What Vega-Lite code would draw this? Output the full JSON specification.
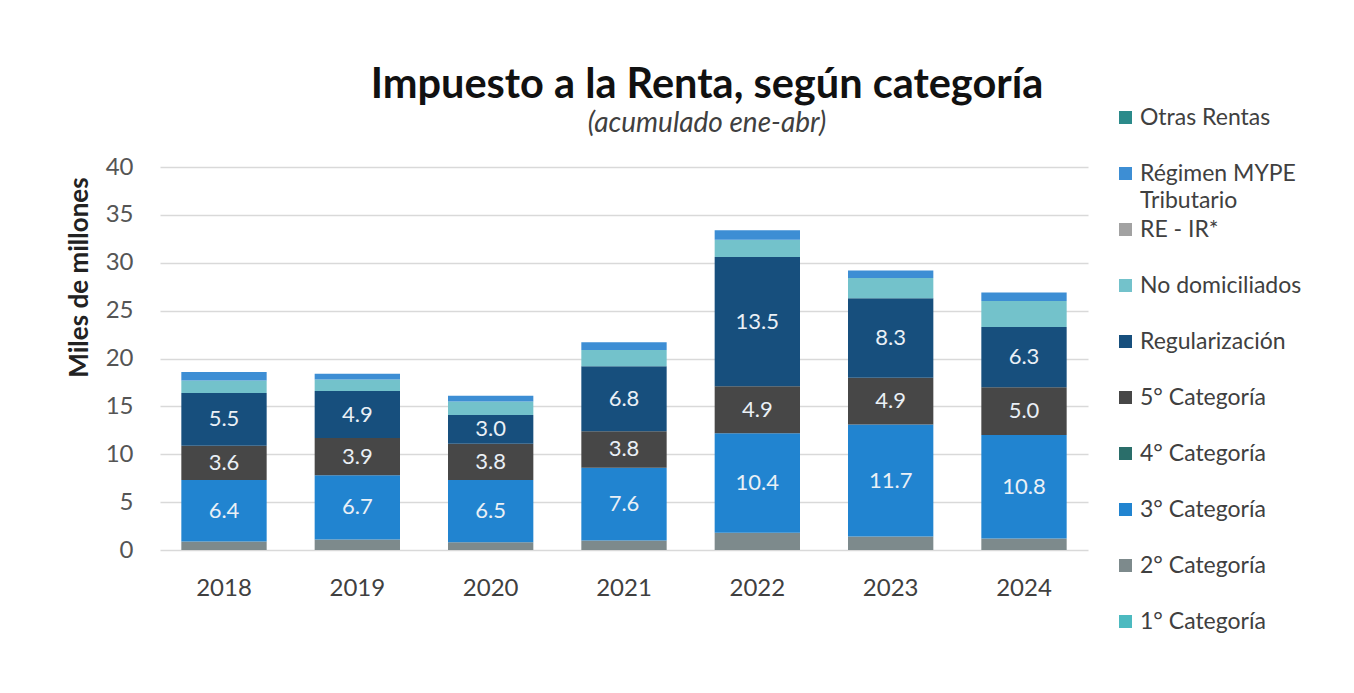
{
  "$schema": "https://vega.github.io/schema/vega-lite/v6.json",
  "width": 928,
  "height": 383,
  "autosize": {"type": "none"},
  "padding": {"left": 160, "top": 167, "right": 266, "bottom": 143},
  "background": "white",
  "config": {"font": "Lato", "view": {"stroke": null}},
  "title": {
    "text": "Impuesto a la Renta, según categoría",
    "subtitle": "(acumulado ene-abr)",
    "anchor": "middle",
    "frame": "group",
    "dx": 83,
    "offset": -32,
    "font": "Lato",
    "fontSize": 41.5,
    "fontWeight": "bold",
    "color": "#111111",
    "subtitleFont": "Lato",
    "subtitleFontSize": 28,
    "subtitleFontStyle": "italic",
    "subtitleColor": "#404040",
    "subtitlePadding": 4
  },
  "data": {
    "values": [
      {"anio": "2018", "categoria": "1° Categoría", "valor": 0},
      {"anio": "2018", "categoria": "2° Categoría", "valor": 0.9},
      {"anio": "2018", "categoria": "3° Categoría", "valor": 6.4},
      {"anio": "2018", "categoria": "4° Categoría", "valor": 0},
      {"anio": "2018", "categoria": "5° Categoría", "valor": 3.6},
      {"anio": "2018", "categoria": "Regularización", "valor": 5.5},
      {"anio": "2018", "categoria": "No domiciliados", "valor": 1.3},
      {"anio": "2018", "categoria": "RE - IR*", "valor": 0},
      {"anio": "2018", "categoria": "Régimen MYPE Tributario", "valor": 0.9},
      {"anio": "2018", "categoria": "Otras Rentas", "valor": 0},
      {"anio": "2019", "categoria": "1° Categoría", "valor": 0},
      {"anio": "2019", "categoria": "2° Categoría", "valor": 1.1},
      {"anio": "2019", "categoria": "3° Categoría", "valor": 6.7},
      {"anio": "2019", "categoria": "4° Categoría", "valor": 0},
      {"anio": "2019", "categoria": "5° Categoría", "valor": 3.9},
      {"anio": "2019", "categoria": "Regularización", "valor": 4.9},
      {"anio": "2019", "categoria": "No domiciliados", "valor": 1.2},
      {"anio": "2019", "categoria": "RE - IR*", "valor": 0},
      {"anio": "2019", "categoria": "Régimen MYPE Tributario", "valor": 0.6},
      {"anio": "2019", "categoria": "Otras Rentas", "valor": 0},
      {"anio": "2020", "categoria": "1° Categoría", "valor": 0},
      {"anio": "2020", "categoria": "2° Categoría", "valor": 0.8},
      {"anio": "2020", "categoria": "3° Categoría", "valor": 6.5},
      {"anio": "2020", "categoria": "4° Categoría", "valor": 0},
      {"anio": "2020", "categoria": "5° Categoría", "valor": 3.8},
      {"anio": "2020", "categoria": "Regularización", "valor": 3.0},
      {"anio": "2020", "categoria": "No domiciliados", "valor": 1.4},
      {"anio": "2020", "categoria": "RE - IR*", "valor": 0},
      {"anio": "2020", "categoria": "Régimen MYPE Tributario", "valor": 0.6},
      {"anio": "2020", "categoria": "Otras Rentas", "valor": 0},
      {"anio": "2021", "categoria": "1° Categoría", "valor": 0},
      {"anio": "2021", "categoria": "2° Categoría", "valor": 1.0},
      {"anio": "2021", "categoria": "3° Categoría", "valor": 7.6},
      {"anio": "2021", "categoria": "4° Categoría", "valor": 0},
      {"anio": "2021", "categoria": "5° Categoría", "valor": 3.8},
      {"anio": "2021", "categoria": "Regularización", "valor": 6.8},
      {"anio": "2021", "categoria": "No domiciliados", "valor": 1.7},
      {"anio": "2021", "categoria": "RE - IR*", "valor": 0},
      {"anio": "2021", "categoria": "Régimen MYPE Tributario", "valor": 0.8},
      {"anio": "2021", "categoria": "Otras Rentas", "valor": 0},
      {"anio": "2022", "categoria": "1° Categoría", "valor": 0},
      {"anio": "2022", "categoria": "2° Categoría", "valor": 1.8},
      {"anio": "2022", "categoria": "3° Categoría", "valor": 10.4},
      {"anio": "2022", "categoria": "4° Categoría", "valor": 0},
      {"anio": "2022", "categoria": "5° Categoría", "valor": 4.9},
      {"anio": "2022", "categoria": "Regularización", "valor": 13.5},
      {"anio": "2022", "categoria": "No domiciliados", "valor": 1.8},
      {"anio": "2022", "categoria": "RE - IR*", "valor": 0},
      {"anio": "2022", "categoria": "Régimen MYPE Tributario", "valor": 1.0},
      {"anio": "2022", "categoria": "Otras Rentas", "valor": 0},
      {"anio": "2023", "categoria": "1° Categoría", "valor": 0},
      {"anio": "2023", "categoria": "2° Categoría", "valor": 1.4},
      {"anio": "2023", "categoria": "3° Categoría", "valor": 11.7},
      {"anio": "2023", "categoria": "4° Categoría", "valor": 0},
      {"anio": "2023", "categoria": "5° Categoría", "valor": 4.9},
      {"anio": "2023", "categoria": "Regularización", "valor": 8.3},
      {"anio": "2023", "categoria": "No domiciliados", "valor": 2.1},
      {"anio": "2023", "categoria": "RE - IR*", "valor": 0},
      {"anio": "2023", "categoria": "Régimen MYPE Tributario", "valor": 0.8},
      {"anio": "2023", "categoria": "Otras Rentas", "valor": 0},
      {"anio": "2024", "categoria": "1° Categoría", "valor": 0},
      {"anio": "2024", "categoria": "2° Categoría", "valor": 1.2},
      {"anio": "2024", "categoria": "3° Categoría", "valor": 10.8},
      {"anio": "2024", "categoria": "4° Categoría", "valor": 0},
      {"anio": "2024", "categoria": "5° Categoría", "valor": 5.0},
      {"anio": "2024", "categoria": "Regularización", "valor": 6.3},
      {"anio": "2024", "categoria": "No domiciliados", "valor": 2.7},
      {"anio": "2024", "categoria": "RE - IR*", "valor": 0},
      {"anio": "2024", "categoria": "Régimen MYPE Tributario", "valor": 0.9},
      {"anio": "2024", "categoria": "Otras Rentas", "valor": 0}
    ]
  },
  "transform": [
    {"calculate": "indexof(['1° Categoría','2° Categoría','3° Categoría','4° Categoría','5° Categoría','Regularización','No domiciliados','RE - IR*','Régimen MYPE Tributario','Otras Rentas'], datum.categoria)", "as": "rank"}
  ],
  "encoding": {
    "x": {
      "field": "anio",
      "type": "ordinal",
      "scale": {"paddingInner": 0.36, "paddingOuter": 0.16},
      "axis": {
        "title": null,
        "labelAngle": 0,
        "domain": false,
        "ticks": false,
        "labelFontSize": 24,
        "labelColor": "#404040",
        "labelPadding": 26
      }
    }
  },
  "layer": [
    {
      "mark": {"type": "bar"},
      "encoding": {
        "y": {
          "field": "valor",
          "type": "quantitative",
          "stack": "zero",
          "scale": {"domain": [0, 40]},
          "axis": {
            "values": [0, 5, 10, 15, 20, 25, 30, 35, 40],
            "title": "Miles de millones",
            "titleFontSize": 26,
            "titleFontWeight": "bold",
            "titleColor": "#222222",
            "titleY": 110,
            "titlePadding": 13,
            "domain": false,
            "ticks": false,
            "labelFontSize": 24,
            "labelColor": "#555555",
            "labelPadding": 27,
            "gridColor": "#d9d9d9",
            "gridWidth": 1.5
          }
        },
        "color": {
          "field": "categoria",
          "type": "nominal",
          "scale": {
            "domain": ["Otras Rentas", "Régimen MYPE Tributario", "RE - IR*", "No domiciliados", "Regularización", "5° Categoría", "4° Categoría", "3° Categoría", "2° Categoría", "1° Categoría"],
            "range": ["#2b8a8a", "#3d8ed4", "#a2a2a2", "#73c2cb", "#174f7d", "#474747", "#2a6e6a", "#2184d0", "#7d8a8c", "#4cbac0"]
          },
          "legend": {
            "orient": "none",
            "legendX": 954,
            "legendY": -61,
            "title": null,
            "symbolType": "square",
            "symbolSize": 169,
            "symbolStrokeWidth": 0,
            "labelFontSize": 23,
            "labelColor": "#404040",
            "labelOffset": 3,
            "labelLimit": 300,
            "rowPadding": 5,
            "labelExpr": "datum.label == 'Régimen MYPE Tributario' ? ['Régimen MYPE', 'Tributario'] : [datum.label, ' ']",
            "encode": {"labels": {"update": {"lineHeight": {"value": 27}}}}
          }
        },
        "order": {"field": "rank", "type": "quantitative", "sort": "ascending"}
      }
    },
    {
      "transform": [
        {"stack": "valor", "groupby": ["anio"], "sort": [{"field": "rank", "order": "ascending"}], "as": ["v0", "v1"]},
        {"calculate": "(datum.v0 + datum.v1) / 2", "as": "mid"},
        {"filter": "indexof(['3° Categoría','5° Categoría','Regularización'], datum.categoria) >= 0"}
      ],
      "mark": {"type": "text", "fontSize": 22, "color": "#eaf0f6"},
      "encoding": {
        "y": {"field": "mid", "type": "quantitative"},
        "text": {"field": "valor", "type": "quantitative", "format": ".1f"}
      }
    }
  ]
}
